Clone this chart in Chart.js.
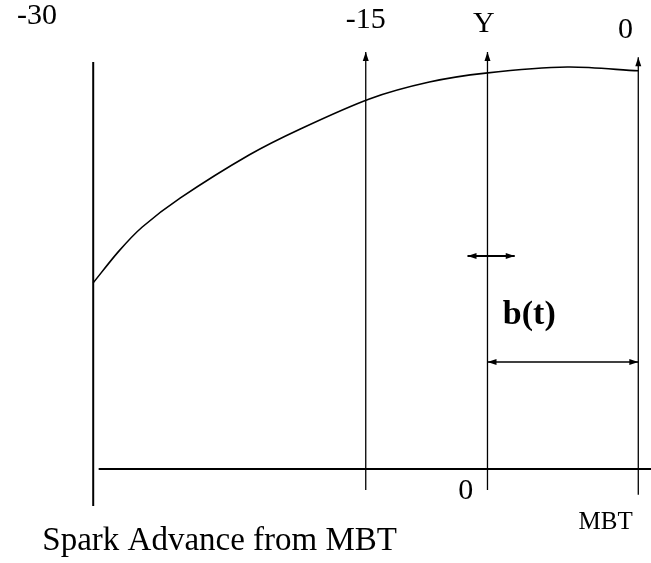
<!DOCTYPE html>
<html>
<head>
<meta charset="utf-8">
<script src="https://cdn.jsdelivr.net/npm/chart.js@4.4.1/dist/chart.umd.min.js"></script>
<style>
html,body{margin:0;padding:0;background:#ffffff;}
#sparkChart{display:block;}
</style>
</head>
<body>
<canvas id="sparkChart" width="651" height="563"></canvas>
<script>

// ==========================================
// DATA
// ==========================================

// torque curve vs spark advance (deg from MBT)
const curveAdvance = [-30, -28.6, -27.3, -25.2, -21.4, -18.6, -14.8, -11.5, -8.4, -3.9, 0];
const curveTorque  = [39.7, 46.4, 51.6, 57.8, 67.0, 72.5, 78.9, 82.5, 84.4, 85.7, 84.9];

// vertical marker lines: x, bottom, top
const markerAdvance = [-30, -15, -8.3, 0];
const markerBottom  = [-7.9, -4.5, -4.5, -5.5];
const markerTop     = [86.8, 88.9, 88.9, 87.8];
const markerArrow   = [false, true, true, true];

// horizontal base line
const baseAdvance = [-29.7, 0.7];
const baseLevel = 0;

// b(t) span arrow and the small shift arrow
const spanAdvance  = [-8.3, 0];
const spanLevel    = 22.8;
const shiftAdvance = [-9.4, -6.8];
const shiftLevel   = 45.4;

// tick labels
const topLabels  = ["-30", "-15", "Y", "0"];
const bottomZero = "0";
const mbtLabel   = "MBT";
const axisTitle  = "Spark Advance from MBT";
const spanLabel  = "b(t)";

// ==========================================
// DATASETS
// ==========================================

const lineStyle = {
    showLine: true,
    pointRadius: 0,
    borderColor: "#000000",
    borderWidth: 1.5,
    fill: false
};

const datasets = [];

datasets.push(Object.assign({}, lineStyle, {
    data: curveAdvance.map((x, i) => ({x: x, y: curveTorque[i]})),
    tension: 0.3,
    borderWidth: 1.6
}));

markerAdvance.forEach((x, i) => {
    datasets.push(Object.assign({}, lineStyle, {
        data: [{x: x, y: markerBottom[i]}, {x: x, y: markerTop[i]}],
        borderWidth: i === 0 ? 2 : 1.3,
        arrowEnd: markerArrow[i]
    }));
});

datasets.push(Object.assign({}, lineStyle, {
    data: baseAdvance.map(x => ({x: x, y: baseLevel})),
    borderWidth: 2
}));

datasets.push(Object.assign({}, lineStyle, {
    data: spanAdvance.map(x => ({x: x, y: spanLevel})),
    borderWidth: 1.5,
    arrowStart: true,
    arrowEnd: true
}));

datasets.push(Object.assign({}, lineStyle, {
    data: shiftAdvance.map(x => ({x: x, y: shiftLevel})),
    borderWidth: 2,
    arrowStart: true,
    arrowEnd: true
}));

// ==========================================
// ARROWS + TEXT PLUGIN
// ==========================================

function drawHead(ctx, fx, fy, tx, ty){
    const ang = Math.atan2(ty - fy, tx - fx);
    const len = 9, half = 3;
    ctx.beginPath();
    ctx.moveTo(tx, ty);
    ctx.lineTo(tx - len * Math.cos(ang) + half * Math.sin(ang), ty - len * Math.sin(ang) - half * Math.cos(ang));
    ctx.lineTo(tx - len * Math.cos(ang) - half * Math.sin(ang), ty - len * Math.sin(ang) + half * Math.cos(ang));
    ctx.closePath();
    ctx.fill();
}

const sketchPlugin = {
    id: "sketch",
    afterDatasetsDraw(chart){
        const ctx = chart.ctx;
        const xs = chart.scales.x, ys = chart.scales.y;
        const px = v => xs.getPixelForValue(v);
        const py = v => ys.getPixelForValue(v);

        ctx.save();
        ctx.fillStyle = "#000000";

        chart.data.datasets.forEach(ds => {
            const d = ds.data;
            if(ds.arrowEnd){
                drawHead(ctx, px(d[0].x), py(d[0].y), px(d[d.length - 1].x), py(d[d.length - 1].y));
            }
            if(ds.arrowStart){
                drawHead(ctx, px(d[d.length - 1].x), py(d[d.length - 1].y), px(d[0].x), py(d[0].y));
            }
        });

        ctx.textAlign = "center";
        ctx.textBaseline = "middle";
        ctx.font = "30px 'Liberation Serif'";

        // labels above the marker lines
        const topPos = [[-33.1, 96.6], [-15, 95.7], [-8.5, 94.9], [-0.7, 93.6]];
        topLabels.forEach((t, i) => {
            ctx.fillText(t, px(topPos[i][0]), py(topPos[i][1]));
        });

        ctx.fillText(bottomZero, px(-9.5), py(-4.7));

        ctx.font = "25px 'Liberation Serif'";
        ctx.fillText(mbtLabel, px(-1.8), py(-11.3));

        ctx.font = "bold 34px 'Liberation Serif'";
        ctx.fillText(spanLabel, px(-6.0), py(32.8));

        ctx.textAlign = "left";
        ctx.textBaseline = "alphabetic";
        ctx.font = "33px 'Liberation Serif'";
        ctx.fillText(axisTitle, px(-32.8), py(-17.3));

        ctx.restore();
    }
};

// ==========================================
// CHART
// ==========================================

const sparkCtx = document.getElementById("sparkChart");

new Chart(sparkCtx, {

    type: "scatter",

    data: {
        datasets: datasets
    },

    options: {

        responsive: false,

        animation: false,

        layout: {
            padding: 0
        },

        plugins: {
            legend: {display: false},
            tooltip: {enabled: false}
        },

        scales: {
            x: {
                type: "linear",
                display: false,
                min: -35.13,
                max: 0.70
            },
            y: {
                type: "linear",
                display: false,
                min: -20.04,
                max: 100
            }
        }

    },

    plugins: [sketchPlugin]

});

</script>
</body>
</html>
